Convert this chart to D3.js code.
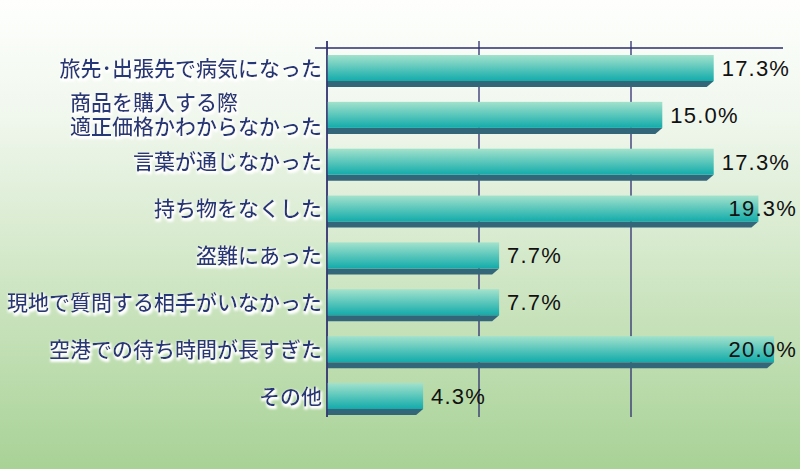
<!DOCTYPE html>
<html>
<head>
<meta charset="utf-8">
<script src="https://cdn.jsdelivr.net/npm/d3@7"></script>
<style>
  body { margin: 0; padding: 0; overflow: hidden; }
  svg { display: block; }
</style>
</head>
<body>
<div id="chart"></div>
<script>
// categories (top to bottom), line breaks as arrays
const categories = [
  ["旅先･出張先で病気になった"],
  ["商品を購入する際", "適正価格かわからなかった"],
  ["言葉が通じなかった"],
  ["持ち物をなくした"],
  ["盗難にあった"],
  ["現地で質問する相手がいなかった"],
  ["空港での待ち時間が長すぎた"],
  ["その他"]
];
const values = [17.3, 15.0, 17.3, 19.3, 7.7, 7.7, 20.0, 4.3];
const gridValues = [0, 6.8, 13.6];

const width = 800;
const height = 469;

const svg = d3.select("#chart")
  .append("svg")
  .attr("width", width)
  .attr("height", height);

const defs = svg.append("defs");

// background gradient
const bg = defs.append("linearGradient")
  .attr("id", "bg")
  .attr("x1", 0).attr("y1", 0).attr("x2", 0).attr("y2", 1);
bg.append("stop").attr("offset", "0%").attr("stop-color", "#fefffd");
bg.append("stop").attr("offset", "25%").attr("stop-color", "#f0f7ed");
bg.append("stop").attr("offset", "60%").attr("stop-color", "#cfe6c4");
bg.append("stop").attr("offset", "100%").attr("stop-color", "#a8d296");

// bar face gradient
const face = defs.append("linearGradient")
  .attr("id", "face")
  .attr("x1", 0).attr("y1", 0).attr("x2", 0).attr("y2", 1);
face.append("stop").attr("offset", "0%").attr("stop-color", "#a3e2cc");
face.append("stop").attr("offset", "100%").attr("stop-color", "#12abaa");

// white glow for labels
const glow = defs.append("filter")
  .attr("id", "glow")
  .attr("x", "-10%").attr("y", "-30%")
  .attr("width", "120%").attr("height", "160%");
glow.append("feMorphology")
  .attr("in", "SourceAlpha").attr("operator", "dilate").attr("radius", 1.4)
  .attr("result", "dil");
glow.append("feGaussianBlur").attr("in", "dil").attr("stdDeviation", 1.3).attr("result", "blur");
glow.append("feOffset").attr("in", "blur").attr("dx", 1).attr("dy", 1.5).attr("result", "off");
glow.append("feFlood").attr("flood-color", "#ffffff");
glow.append("feComposite").attr("in2", "off").attr("operator", "in").attr("result", "halo");
const merge = glow.append("feMerge");
merge.append("feMergeNode").attr("in", "halo");
merge.append("feMergeNode").attr("in", "SourceGraphic");

svg.append("rect")
  .attr("width", width)
  .attr("height", height)
  .attr("fill", "url(#bg)");

const xScale = d3.scaleLinear()
  .domain([0, 20.4])
  .range([327, 783]);

const yScale = d3.scaleBand()
  .domain(d3.range(categories.length))
  .range([55, 415])
  .paddingInner(0.316)
  .paddingOuter(0);

const bw = yScale.bandwidth();
const shelf = 6;

// gridlines
svg.append("g")
  .selectAll("line")
  .data(gridValues)
  .join("line")
  .attr("x1", d => xScale(d))
  .attr("x2", d => xScale(d))
  .attr("y1", 41)
  .attr("y2", 417)
  .attr("stroke", "#2e2e6e")
  .attr("stroke-width", 1.3);

svg.append("line")
  .attr("x1", 315)
  .attr("x2", xScale.range()[1])
  .attr("y1", 48)
  .attr("y2", 48)
  .attr("stroke", "#2e2e6e")
  .attr("stroke-width", 1.3);

// bars
const bars = svg.append("g")
  .selectAll("g")
  .data(values)
  .join("g");

bars.append("path")
  .attr("d", (d, i) => {
    const x0 = xScale(0), x1 = xScale(d);
    const y0 = yScale(i) + bw - shelf, y1 = yScale(i) + bw;
    return `M${x0},${y0}L${x1},${y0}L${x1 - 7},${y1}L${x0},${y1}Z`;
  })
  .attr("fill", "#336679");

bars.append("rect")
  .attr("x", xScale(0))
  .attr("y", (d, i) => yScale(i))
  .attr("width", d => xScale(d) - xScale(0))
  .attr("height", bw - shelf)
  .attr("fill", "url(#face)");

// left axis line over bars
svg.append("line")
  .attr("x1", xScale(0))
  .attr("x2", xScale(0))
  .attr("y1", 41)
  .attr("y2", 417)
  .attr("stroke", "#2e2e6e")
  .attr("stroke-width", 1.3);

// value labels
svg.append("g")
  .selectAll("text")
  .data(values)
  .join("text")
  .attr("y", (d, i) => yScale(i) + (bw - shelf) / 2)
  .attr("dy", "0.36em")
  .attr("font-family", "'Liberation Sans', Arial, sans-serif")
  .attr("font-size", 22)
  .attr("letter-spacing", 1.2)
  .attr("fill", "#111")
  .text(d => d.toFixed(1) + "%")
  .attr("x", function(d) {
    const w = this.getComputedTextLength();
    return Math.min(xScale(d) + 8, 797 - w);
  });

// category labels
const labels = svg.append("g")
  .selectAll("text")
  .data(categories)
  .join("text")
  .attr("font-family", "'Noto Sans CJK JP', sans-serif")
  .attr("font-size", 21)
  .attr("font-weight", 500)
  .attr("fill", "#283878")
  .attr("filter", "url(#glow)");

labels.each(function(lines, i) {
  const t = d3.select(this);
  const cy = yScale(i) + (bw - shelf) / 2;
  const lh = 24;
  const top = cy - (lines.length - 1) * lh / 2;
  lines.forEach((ln, j) => {
    t.append("tspan")
      .attr("x", 0)
      .attr("y", top + j * lh)
      .attr("dy", "0.36em")
      .text(ln);
  });
  const w = this.getBBox().width;
  t.selectAll("tspan").attr("x", 322 - w);
});
</script>
</body>
</html>
